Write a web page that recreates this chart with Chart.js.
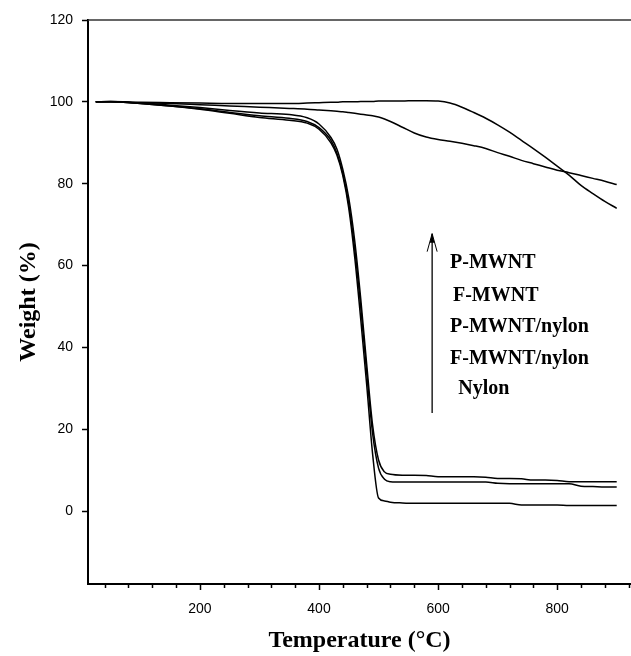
<!DOCTYPE html>
<html><head><meta charset="utf-8">
<script src="https://cdn.jsdelivr.net/npm/chart.js@4"></script>
<style>html,body{margin:0;padding:0;background:#fff}#wrap{width:631px;height:656px}</style>
</head><body><div id="wrap"><canvas id="c" width="631" height="656"></canvas></div>
<script>
// Temperature grid (°C)
const temps = [25,50,100,150,200,250,300,350,380,400,420,430,440,450,460,470,480,490,500,510,520,540,560,580,600,620,640,660,680,700,720,740,760,780,800,820,840,860,880,900];
// Weight (%) for each sample
const pMWNT      = [100,100.1,99.9,99.8,99.7,99.6,99.6,99.6,99.7,99.8,99.9,99.9,100,100,100,100.1,100.1,100.1,100.2,100.2,100.2,100.2,100.3,100.3,100.2,99.7,98.7,97.4,96.0,94.4,92.6,90.6,88.6,86.5,84.3,82.1,79.6,77.6,75.7,74.0];
const fMWNT      = [100,100.1,99.8,99.6,99.3,99.0,98.7,98.4,98.2,98.0,97.8,97.7,97.6,97.4,97.2,97.0,96.8,96.6,96.3,95.8,95.2,93.8,92.4,91.4,90.8,90.4,89.9,89.3,88.6,87.6,86.7,85.7,84.9,84.1,83.3,82.7,82.0,81.3,80.6,79.8];
const pMWNTnylon = [100,100,99.7,99.2,98.6,97.9,97.3,96.9,96.1,94.6,91.3,88.5,83.5,76.5,66,52,36,21,12.5,9.6,9.0,8.8,8.8,8.7,8.4,8.4,8.4,8.4,8.3,8.0,8.0,7.9,7.6,7.6,7.5,7.2,7.2,7.2,7.2,7.2];
const fMWNTnylon = [100,100,99.6,99.0,98.3,97.4,96.6,96.0,95.2,93.7,90.6,87.5,82.5,75,64,50,34,19,10.5,7.8,7.2,7.1,7.1,7.1,7.1,7.1,7.1,7.1,7.1,6.8,6.7,6.7,6.7,6.7,6.7,6.7,6.1,6.0,5.9,5.9];
const nylon      = [100,100,99.6,99.0,98.2,97.2,96.2,95.5,94.8,93.3,90.0,87.0,82,74,62,47,31,14,3.2,2.5,2.2,2.0,1.9,1.9,1.9,1.9,1.9,1.9,1.9,1.9,1.9,1.5,1.5,1.5,1.5,1.4,1.4,1.4,1.4,1.4];

const seriesNames = ['P-MWNT','F-MWNT','P-MWNT/nylon','F-MWNT/nylon','Nylon'];
const seriesValues = [pMWNT, fMWNT, pMWNTnylon, fMWNTnylon, nylon];
const yTickValues = [0,20,40,60,80,100,120];
const xLabelValues = [200,400,600,800];
const xMinorTicks = [40,80,120,160,200,240,280,320,360,400,440,480,520,560,600,640,680,720,760,800,840,880,920];

const datasets = seriesNames.map((name, i) => ({
  label: name,
  data: temps.map((t, j) => ({x: t, y: seriesValues[i][j]})),
  borderColor: '#000',
  borderWidth: 1.5,
  pointRadius: 0,
  fill: false,
  cubicInterpolationMode: 'monotone'
}));

const annot = {
  id: 'annot',
  afterDraw(chart) {
    const ctx = chart.ctx, xs = chart.scales.x, ys = chart.scales.y, ca = chart.chartArea;
    ctx.save();
    // top frame line
    ctx.strokeStyle = '#333'; ctx.lineWidth = 1.5;
    ctx.beginPath(); ctx.moveTo(ca.left, ca.top); ctx.lineTo(ca.right, ca.top); ctx.stroke();
    // x ticks (major longer)
    ctx.strokeStyle = '#000'; ctx.lineWidth = 1.5;
    xMinorTicks.forEach(v => {
      const px = Math.round(xs.getPixelForValue(v)) + 0.5;
      const len = xLabelValues.includes(v) ? 6 : 4;
      ctx.beginPath(); ctx.moveTo(px, ca.bottom); ctx.lineTo(px, ca.bottom + len); ctx.stroke();
    });
    // arrow
    const ax = xs.getPixelForValue(590);
    const ty = ys.getPixelForValue(67.8), by = ys.getPixelForValue(24);
    ctx.lineWidth = 1.3;
    ctx.beginPath(); ctx.moveTo(ax, by); ctx.lineTo(ax, ty); ctx.stroke();
    ctx.lineWidth = 1;
    ctx.beginPath(); ctx.moveTo(ax - 5, ty + 18); ctx.lineTo(ax, ty); ctx.lineTo(ax + 5, ty + 18); ctx.stroke();
    ctx.fillStyle = '#000';
    ctx.beginPath(); ctx.moveTo(ax, ty); ctx.lineTo(ax - 2.5, ty + 9); ctx.lineTo(ax + 2.5, ty + 9); ctx.closePath(); ctx.fill();
    // labels
    ctx.font = 'bold 20px "Liberation Serif", "Times New Roman", serif';
    ctx.textBaseline = 'middle'; ctx.textAlign = 'left';
    const pos = [[620, 60.6], [625, 52.6], [620, 45.0], [620, 37.3], [634, 29.8]];
    seriesNames.forEach((n, i) => {
      ctx.fillText(n, xs.getPixelForValue(pos[i][0]), ys.getPixelForValue(pos[i][1]));
    });
    ctx.restore();
  }
};

new Chart(document.getElementById('c'), {
  type: 'line',
  data: { datasets },
  options: {
    responsive: false,
    animation: false,
    devicePixelRatio: 1,
    layout: { padding: { top: 20, right: 0, left: 0, bottom: 0 } },
    plugins: { legend: { display: false }, tooltip: { enabled: false } },
    scales: {
      x: {
        type: 'linear', position: 'bottom', min: 12, max: 924,
        afterBuildTicks: s => { s.ticks = xMinorTicks.map(v => ({value: v})); },
        afterFit: s => { s.height = 72; },
        ticks: {
          autoSkip: false, maxRotation: 0, padding: 1, color: '#000',
          font: { family: '"Liberation Sans", Arial, sans-serif', size: 14 },
          callback: v => xLabelValues.includes(v) ? String(v) : ''
        },
        grid: { drawOnChartArea: false, drawTicks: true, tickLength: 16, tickColor: 'rgba(0,0,0,0)' },
        border: { display: true, color: '#000', width: 2 },
        title: {
          display: true, text: 'Temperature (°C)', color: '#000',
          font: { family: '"Liberation Serif", "Times New Roman", serif', size: 24, weight: 'bold' },
          padding: { top: 0, bottom: 1 }
        }
      },
      y: {
        type: 'linear', min: -17.8, max: 120,
        afterBuildTicks: s => { s.ticks = yTickValues.map(v => ({value: v})); },
        afterFit: s => { s.width = 88; },
        ticks: {
          padding: 9, color: '#000',
          font: { family: '"Liberation Sans", Arial, sans-serif', size: 14 }
        },
        grid: { drawOnChartArea: false, drawTicks: true, tickLength: 6, tickColor: '#000', tickWidth: 1.5 },
        border: { display: true, color: '#000', width: 2 },
        title: {
          display: true, text: 'Weight (%)', color: '#000',
          font: { family: '"Liberation Serif", "Times New Roman", serif', size: 24, weight: 'bold' },
          padding: { top: 14, bottom: 0 }
        }
      }
    }
  },
  plugins: [annot]
});
</script></body></html>
